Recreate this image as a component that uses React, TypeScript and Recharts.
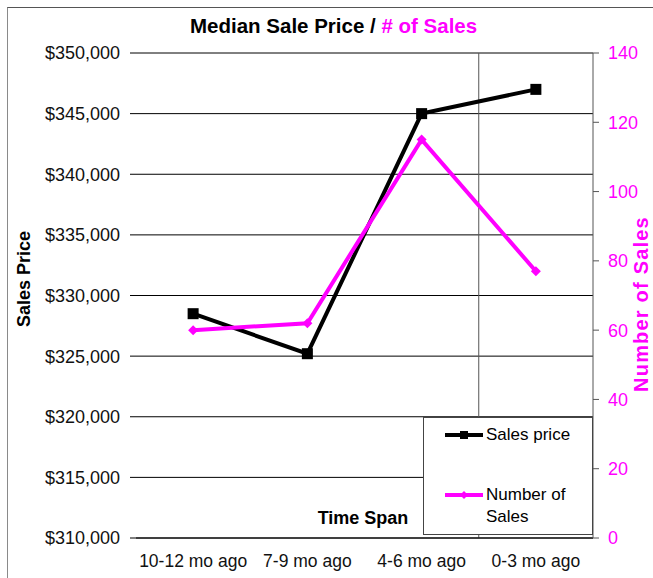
import { LineChart, Line, XAxis, YAxis, CartesianGrid, Legend } from "recharts";

const FONT = "'Liberation Sans', Arial, sans-serif";
const MAGENTA = "#ff00ff";

const periods = ["10-12 mo ago", "7-9 mo ago", "4-6 mo ago", "0-3 mo ago"];
const salesPrice = [328500, 325200, 345000, 347000];
const numberOfSales = [60, 62, 115, 77];
const priceTicks = [310000, 315000, 320000, 325000, 330000, 335000, 340000, 345000, 350000];
const salesTicks = [0, 20, 40, 60, 80, 100, 120, 140];
const seriesOrder = ["price", "sales"];

const data = periods.map((period, i) => ({
  period,
  price: salesPrice[i],
  sales: numberOfSales[i],
}));

const SquareDot = (props: any) => {
  const { cx, cy } = props;
  if (cx == null || cy == null) return null;
  return <rect x={cx - 5.5} y={cy - 5.5} width={11} height={11} fill="#000" />;
};

const DiamondDot = (props: any) => {
  const { cx, cy } = props;
  if (cx == null || cy == null) return null;
  const r = 5;
  return (
    <polygon
      points={`${cx},${cy - r} ${cx + r},${cy} ${cx},${cy + r} ${cx - r},${cy}`}
      fill={MAGENTA}
    />
  );
};

const LeftTitle = (props: any) => {
  const { viewBox } = props;
  const x = viewBox.x + 24;
  const y = 279;
  return (
    <text
      x={x}
      y={y}
      transform={`rotate(-90, ${x}, ${y})`}
      textAnchor="middle"
      dominantBaseline="central"
      fontFamily={FONT}
      fontWeight="bold"
      fontSize={18}
      fill="#000"
    >
      Sales Price
    </text>
  );
};

const RightTitle = (props: any) => {
  const { viewBox } = props;
  const x = viewBox.x + 48;
  const y = 304;
  return (
    <text
      x={x}
      y={y}
      transform={`rotate(-90, ${x}, ${y})`}
      textAnchor="middle"
      dominantBaseline="central"
      fontFamily={FONT}
      fontWeight="bold"
      fontSize={20}
      letterSpacing={1.2}
      fill={MAGENTA}
    >
      Number of Sales
    </text>
  );
};

const BottomTitle = (props: any) => {
  const { viewBox } = props;
  return (
    <text
      x={363}
      y={viewBox.y - 14}
      textAnchor="middle"
      fontFamily={FONT}
      fontWeight="bold"
      fontSize={18}
      fill="#000"
    >
      Time Span
    </text>
  );
};

const LegendBox = (props: any) => {
  const { payload = [] } = props;
  const items = [...payload].sort(
    (a: any, b: any) => seriesOrder.indexOf(a.dataKey) - seriesOrder.indexOf(b.dataKey)
  );
  return (
    <div
      style={{
        width: 170,
        height: 118,
        boxSizing: "border-box",
        border: "1px solid #444",
        background: "#fff",
        position: "relative",
        fontFamily: FONT,
        fontSize: 17,
        color: "#000",
      }}
    >
      {items.map((entry: any, i: number) => {
        const isPrice = entry.dataKey === "price";
        return (
          <div
            key={entry.value}
            style={{
              position: "absolute",
              left: 20,
              top: i === 0 ? 6 : 66,
              display: "flex",
              alignItems: "flex-start",
              lineHeight: "22px",
            }}
          >
            <svg width={40} height={22} style={{ flex: "none" }}>
              <line x1={1} x2={39} y1={11} y2={11} stroke={entry.color} strokeWidth={4} />
              {isPrice ? (
                <rect x={16} y={7} width={8} height={8} fill="#000" />
              ) : (
                <polygon points="20,7 24,11 20,15 16,11" fill={MAGENTA} />
              )}
            </svg>
            <div style={{ width: 95, marginLeft: 2 }}>{entry.value}</div>
          </div>
        );
      })}
    </div>
  );
};

export default function App() {
  return (
    <div
      style={{
        position: "absolute",
        left: 0,
        top: 0,
        width: 653,
        height: 578,
        overflow: "hidden",
        background: "#fff",
      }}
    >
      <div
        style={{
          position: "absolute",
          left: 7,
          top: 7,
          width: 700,
          height: 650,
          borderLeft: "1px solid #8a8a8a",
          borderTop: "1px solid #555",
        }}
      />
      <div
        style={{
          position: "absolute",
          left: 190,
          top: 14,
          whiteSpace: "nowrap",
          fontFamily: FONT,
          fontWeight: "bold",
          fontSize: 20.5,
          lineHeight: "24px",
          color: "#000",
        }}
      >
        Median Sale Price / <span style={{ color: MAGENTA }}># of Sales</span>
      </div>
      <div style={{ position: "absolute", left: 0, top: 0 }}>
        <LineChart
          width={653}
          height={578}
          data={data}
          margin={{ top: 53, right: 0, bottom: 0, left: 0 }}
        >
          <CartesianGrid
            yAxisId="left"
            vertical={false}
            stroke="#000"
            strokeWidth={1}
          />
          <CartesianGrid
            yAxisId="left"
            horizontal={false}
            stroke="#555"
            strokeWidth={1}
            verticalCoordinatesGenerator={({ offset }: any) => [
              offset.left + (offset.width * 3) / periods.length,
            ]}
          />
          <XAxis
            dataKey="period"
            scale="band"
            height={40}
            axisLine={{ stroke: "#000", strokeWidth: 1 }}
            tickLine={false}
            tickSize={0}
            tickMargin={17}
            tick={{ fontFamily: FONT, fontSize: 17.5, fill: "#111" }}
            interval={0}
            label={<BottomTitle />}
          />
          <YAxis
            yAxisId="left"
            orientation="left"
            domain={[310000, 350000]}
            ticks={priceTicks}
            width={136}
            axisLine={false}
            tickLine={{ stroke: "#000" }}
            tickSize={6}
            tickMargin={10}
            tickFormatter={(v: number) => `$${v.toLocaleString("en-US")}`}
            tick={{ fontFamily: FONT, fontSize: 18, fill: "#111" }}
            label={<LeftTitle />}
          />
          <YAxis
            yAxisId="right"
            orientation="right"
            domain={[0, 140]}
            ticks={salesTicks}
            width={60}
            axisLine={{ stroke: "#555" }}
            tickLine={{ stroke: "#555" }}
            tickSize={6}
            tickMargin={9}
            tick={{ fontFamily: FONT, fontSize: 18, fill: MAGENTA }}
            label={<RightTitle />}
          />
          <Line
            yAxisId="left"
            type="linear"
            dataKey="price"
            name="Sales price"
            stroke="#000"
            strokeWidth={4}
            dot={<SquareDot />}
            activeDot={false}
            isAnimationActive={false}
          />
          <Line
            yAxisId="right"
            type="linear"
            dataKey="sales"
            name="Number of Sales"
            stroke={MAGENTA}
            strokeWidth={4}
            dot={<DiamondDot />}
            activeDot={false}
            isAnimationActive={false}
          />
          <Legend
            layout="vertical"
            align="center"
            verticalAlign="middle"
            content={<LegendBox />}
            wrapperStyle={{ left: 423, top: 417, width: 170, height: 118 }}
          />
        </LineChart>
      </div>
    </div>
  );
}
